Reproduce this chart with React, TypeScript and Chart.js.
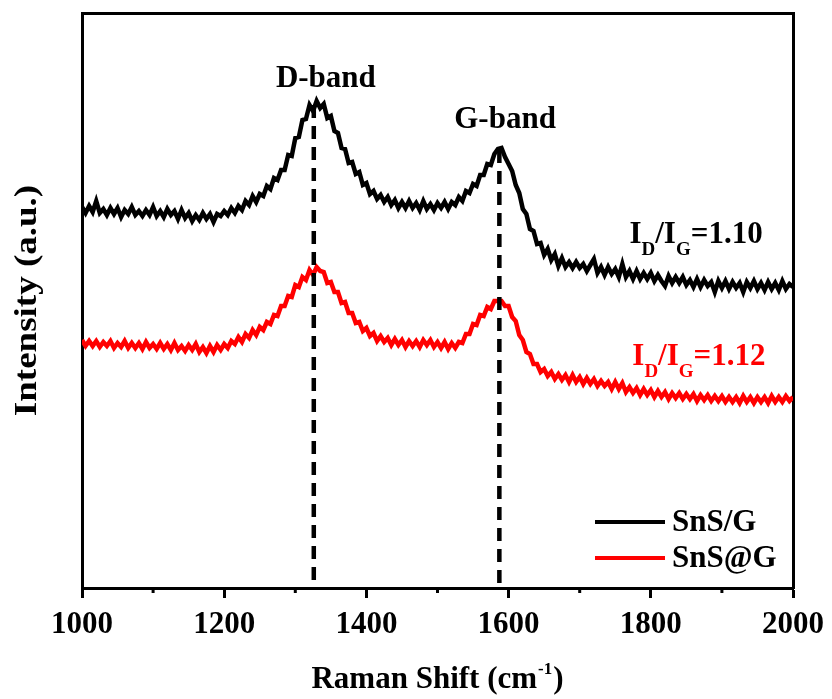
import React, { useEffect, useRef } from "react";
import { Chart, registerables } from "chart.js";

Chart.register(...registerables);

// Raman shift axis (cm^-1), sampled every 5 cm^-1 from 1000 to 2000
const SHIFT_START = 1000;
const SHIFT_STEP = 5;

// Intensity (a.u.)
const SNS_G = [
  386, 380, 387, 381, 392, 380, 384, 378, 385, 379,
  385, 376, 383, 379, 386, 378, 382, 377, 383, 378,
  386, 377, 382, 376, 384, 378, 382, 374, 383, 375,
  380, 372, 378, 373, 380, 374, 379, 371, 379, 377,
  382, 378, 385, 380, 387, 383, 392, 388, 397, 391,
  399, 397, 407, 404, 415, 413, 423, 423, 438, 437,
  455, 456, 473, 474, 488, 482, 492, 485, 489, 475,
  477, 462, 460, 445, 444, 430, 431, 419, 421, 408,
  410, 399, 402, 394, 398, 391, 396, 388, 393, 385,
  391, 385, 392, 385, 390, 383, 392, 384, 389, 383,
  390, 385, 391, 384, 391, 388, 396, 392, 402, 400,
  409, 407, 418, 418, 429, 428, 439, 444, 445, 436,
  429, 422, 408, 400, 384, 379, 364, 362, 349, 350,
  338, 344, 333, 339, 327, 335, 326, 331, 325, 331,
  325, 329, 322, 328, 334, 320, 326, 318, 326, 319,
  324, 316, 329, 316, 322, 314, 322, 314, 320, 314,
  320, 312, 318, 312, 307, 317, 310, 316, 310, 316,
  308, 313, 306, 314, 306, 313, 307, 311, 301, 312,
  305, 312, 304, 311, 305, 310, 301, 311, 305, 312,
  304, 310, 303, 311, 304, 310, 303, 312, 304, 309,
  306,
];

const SNS_AT_G = [
  253, 247, 252, 247, 252, 246, 251, 247, 252, 245,
  250, 246, 252, 245, 250, 245, 250, 244, 251, 245,
  249, 244, 250, 244, 249, 243, 250, 243, 247, 242,
  248, 243, 249, 241, 246, 240, 247, 241, 248, 243,
  249, 245, 252, 249, 256, 251, 259, 255, 263, 258,
  266, 263, 271, 269, 278, 277, 287, 287, 297, 296,
  308, 306, 316, 313, 323, 318, 326, 322, 321, 310,
  311, 301, 301, 290, 291, 280, 280, 270, 271, 262,
  265, 257, 260, 252, 257, 251, 255, 248, 254, 248,
  253, 246, 252, 247, 252, 246, 253, 248, 253, 246,
  251, 245, 251, 244, 250, 245, 251, 250, 259, 259,
  269, 268, 278, 277, 286, 284, 292, 292, 292, 287,
  287, 276, 272, 258, 253, 241, 239, 229, 229, 221,
  224, 217, 221, 214, 219, 213, 218, 211, 218, 211,
  216, 209, 215, 209, 214, 207, 212, 207, 211, 204,
  211, 204, 210, 201, 206, 200, 205, 198, 204, 198,
  203, 196, 202, 196, 201, 194, 200, 195, 200, 194,
  199, 194, 199, 192, 198, 193, 198, 192, 197, 192,
  197, 191, 196, 191, 196, 190, 197, 191, 196, 190,
  196, 191, 196, 190, 197, 191, 196, 191, 197, 192,
  196,
];

// Band positions (cm^-1) and dashed-line tops
const D_BAND = 1326;
const G_BAND = 1587;
const D_LINE_TOP = 488;
const G_LINE_TOP = 443;

const X_MIN = 1000;
const X_MAX = 2000;
const Y_MIN = 5;
const Y_MAX = 580;

const SERIES_NAMES = ["SnS/G", "SnS@G"];
const SERIES_COLORS = ["#000000", "#ff0000"];
const RATIOS = ["1.10", "1.12"];

const FONT = "'Liberation Serif', 'Times New Roman', serif";

export default function App() {
  const ref = useRef<HTMLCanvasElement | null>(null);

  useEffect(() => {
    const canvas = ref.current;
    if (!canvas) return;

    const shift = SNS_G.map((_, i) => SHIFT_START + i * SHIFT_STEP);
    const toPts = (arr: number[]) => arr.map((y, i) => ({ x: shift[i], y }));

    const decor = {
      id: "decor",
      afterDatasetsDraw(chart: any) {
        const ctx = chart.ctx;
        const xs = chart.scales.x;
        const ys = chart.scales.y;
        const area = chart.chartArea;
        ctx.save();
        // minor ticks
        ctx.strokeStyle = "#000";
        ctx.lineWidth = 3;
        for (let v = 1100; v < 2000; v += 200) {
          const px = xs.getPixelForValue(v);
          ctx.beginPath();
          ctx.moveTo(px, area.bottom);
          ctx.lineTo(px, area.bottom + 5);
          ctx.stroke();
        }
        // band labels
        ctx.fillStyle = "#000";
        ctx.font = `bold 31px ${FONT}`;
        ctx.textAlign = "center";
        ctx.textBaseline = "alphabetic";
        ctx.fillText("D-band", xs.getPixelForValue(1343), ys.getPixelForValue(506));
        ctx.fillText("G-band", xs.getPixelForValue(1595), ys.getPixelForValue(465));

        // ratio labels
        const drawRatio = (xv: number, yv: number, value: string, color: string) => {
          let x = xs.getPixelForValue(xv);
          const y = ys.getPixelForValue(yv);
          ctx.fillStyle = color;
          ctx.textAlign = "left";
          const big = `bold 31px ${FONT}`;
          const small = `bold 19px ${FONT}`;
          const parts: [string, boolean][] = [
            ["I", false], ["D", true], ["/I", false], ["G", true], ["=" + value, false],
          ];
          for (const [t, sub] of parts) {
            ctx.font = sub ? small : big;
            ctx.fillText(t, x, sub ? y + 12 : y);
            x += ctx.measureText(t).width;
          }
        };
        drawRatio(1770, 350, RATIOS[0], SERIES_COLORS[0]);
        drawRatio(1774, 228, RATIOS[1], SERIES_COLORS[1]);

        // legend
        const lx0 = area.right - 198;
        const lx1 = area.right - 128;
        const rows = [area.bottom - 66, area.bottom - 30];
        rows.forEach((ry, i) => {
          ctx.strokeStyle = SERIES_COLORS[i];
          ctx.lineWidth = 4;
          ctx.beginPath();
          ctx.moveTo(lx0, ry);
          ctx.lineTo(lx1, ry);
          ctx.stroke();
          ctx.fillStyle = "#000";
          ctx.font = `bold 31px ${FONT}`;
          ctx.textAlign = "left";
          ctx.textBaseline = "middle";
          ctx.fillText(SERIES_NAMES[i], lx1 + 7, ry + 1);
        });

        // axis titles
        const cx = (area.left + area.right) / 2;
        ctx.fillStyle = "#000";
        ctx.textBaseline = "alphabetic";
        const main = `bold 31px ${FONT}`;
        const sup = `bold 17px ${FONT}`;
        const tparts: [string, boolean][] = [["Raman Shift (cm", false], ["-1", true], [")", false]];
        let w = 0;
        for (const [t, s] of tparts) {
          ctx.font = s ? sup : main;
          w += ctx.measureText(t).width + (s ? 2 : 0);
        }
        let tx = cx - w / 2;
        const ty = 688;
        for (const [t, s] of tparts) {
          ctx.font = s ? sup : main;
          ctx.fillText(t, tx + (s ? 1 : 0), s ? ty - 14 : ty);
          tx += ctx.measureText(t).width + (s ? 2 : 0);
        }

        ctx.translate(36, (area.top + area.bottom) / 2);
        ctx.rotate(-Math.PI / 2);
        ctx.scale(1, 0.88);
        ctx.font = `bold 37px ${FONT}`;
        ctx.textAlign = "center";
        ctx.fillText("Intensity (a.u.)", 0, 0);
        ctx.restore();
      },
    };

    const chart = new Chart(canvas, {
      type: "line",
      data: {
        datasets: [
          {
            label: "D",
            data: [{ x: D_BAND, y: D_LINE_TOP }, { x: D_BAND, y: Y_MIN }],
            borderColor: "#000",
            borderWidth: 4.5,
            borderDash: [13, 8],
            pointRadius: 0,
            order: 0,
          },
          {
            label: "G",
            data: [{ x: G_BAND, y: G_LINE_TOP }, { x: G_BAND, y: Y_MIN }],
            borderColor: "#000",
            borderWidth: 4.5,
            borderDash: [13, 8],
            pointRadius: 0,
            order: 0,
          },
          {
            label: SERIES_NAMES[0],
            data: toPts(SNS_G),
            borderColor: SERIES_COLORS[0],
            borderWidth: 4.5,
            pointRadius: 0,
            tension: 0,
            order: 1,
          },
          {
            label: SERIES_NAMES[1],
            data: toPts(SNS_AT_G),
            borderColor: SERIES_COLORS[1],
            borderWidth: 4.5,
            pointRadius: 0,
            tension: 0,
            order: 1,
          },
        ],
      },
      options: {
        responsive: false,
        animation: false,
        devicePixelRatio: 1,
        layout: { padding: 0 },
        plugins: { legend: { display: false }, tooltip: { enabled: false } },
        scales: {
          x: {
            type: "linear",
            position: "bottom",
            min: X_MIN,
            max: X_MAX,
            ticks: {
              stepSize: 100,
              autoSkip: false,
              maxRotation: 0,
              padding: 8,
              color: "#000",
              font: { family: FONT, size: 31, weight: "bold" },
              callback: (v: any) => (Number(v) % 200 === 0 ? String(v) : ""),
            },
            grid: {
              drawOnChartArea: false,
              drawTicks: true,
              tickLength: 10,
              tickWidth: 3,
              tickColor: (c: any) =>
                c.tick && Number(c.tick.value) % 200 === 0 ? "#000" : "rgba(0,0,0,0)",
            },
            border: { width: 3, color: "#000" },
            afterFit: (s: any) => {
              s.height = 111;
            },
          },
          x2: {
            type: "linear",
            position: "top",
            min: X_MIN,
            max: X_MAX,
            ticks: { display: false },
            grid: { drawOnChartArea: false, drawTicks: false },
            border: { width: 3, color: "#000" },
            afterFit: (s: any) => {
              s.height = 13;
            },
          },
          y: {
            type: "linear",
            position: "left",
            min: Y_MIN,
            max: Y_MAX,
            ticks: { display: false },
            grid: { drawOnChartArea: false, drawTicks: false },
            border: { width: 3, color: "#000" },
            afterFit: (s: any) => {
              s.width = 82;
            },
          },
          y2: {
            type: "linear",
            position: "right",
            min: Y_MIN,
            max: Y_MAX,
            ticks: { display: false },
            grid: { drawOnChartArea: false, drawTicks: false },
            border: { width: 3, color: "#000" },
            afterFit: (s: any) => {
              s.width = 36;
            },
          },
        },
      } as any,
      plugins: [decor],
    });

    return () => chart.destroy();
  }, []);

  return (
    <div style={{ position: "fixed", left: 0, top: 0, width: 832, height: 699, background: "#fff" }}>
      <canvas ref={ref} width={832} height={699} />
    </div>
  );
}
